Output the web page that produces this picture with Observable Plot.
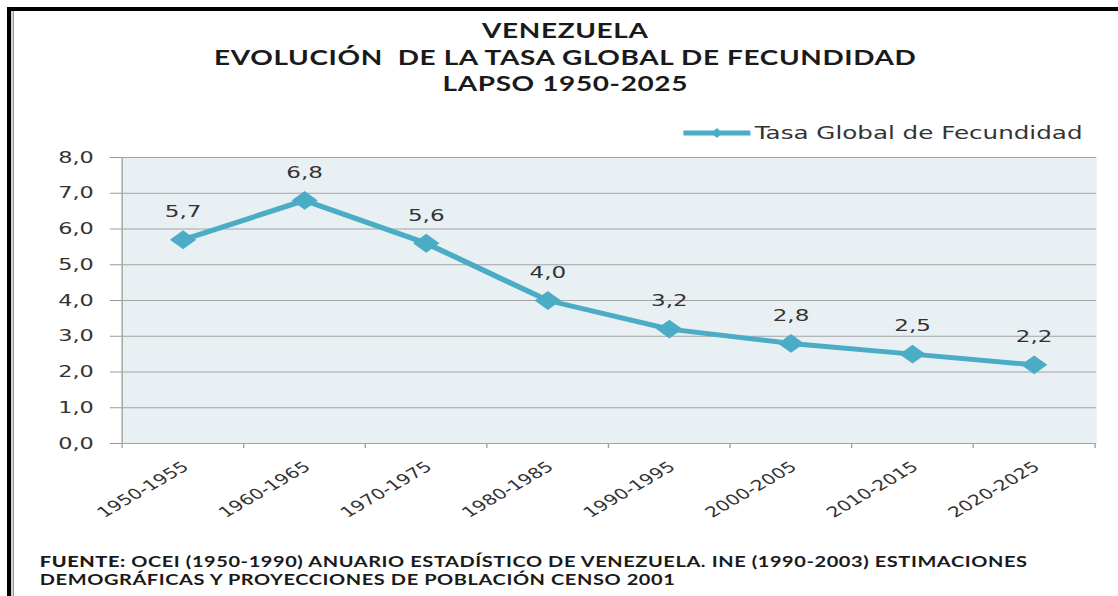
<!DOCTYPE html>
<html>
<head>
<meta charset="utf-8">
<script src="https://cdn.jsdelivr.net/npm/d3@7"></script>
<script src="https://cdn.jsdelivr.net/npm/@observablehq/plot@0.6"></script>
<style>
  html, body { margin:0; padding:0; background:#fff; width:1118px; height:596px; overflow:hidden; }
  #root { position:absolute; left:0; top:0; width:800px; height:596px; transform:scaleX(1.3975); transform-origin:0 0; }
  #frame { position:absolute; left:5px; top:7px; width:800px; height:600px; border-top:4px solid #000; border-left:3px solid #000; }
  #frame2 { position:absolute; left:8.6px; top:11px; width:1px; height:600px; background:#9a9a9a; }
  #title { position:absolute; left:4.5px; top:17px; width:800px; text-align:center; font-family:Lato, "Open Sans", sans-serif; font-weight:700; font-size:20px; letter-spacing:0.45px; line-height:26.5px; color:#1a1a1a; }
  #legend { position:absolute; left:489px; top:121px; height:24px; display:flex; align-items:center; font-family:"DejaVu Sans", sans-serif; font-size:17.6px; color:#333; }
  #plot { position:absolute; left:0; top:120px; }
  #foot { position:absolute; left:28.5px; top:553px; font-family:Lato, "Open Sans", sans-serif; font-weight:700; font-size:14.3px; line-height:18px; color:#1a1a1a; letter-spacing:0.42px; }
  #foot b { font-weight:900; }
  #plot svg g[aria-label="y-axis tick"] path { stroke:#9a9a9a; }
</style>
</head>
<body>
<div id="root">
  <div id="frame"></div>
  <div id="frame2"></div>
  <div id="title">VENEZUELA<br>EVOLUCIÓN&nbsp; DE LA TASA GLOBAL DE FECUNDIDAD<br>LAPSO 1950-2025</div>
  <div id="legend"></div>
  <div id="plot"></div>
  <div id="foot"><b>FUENTE:</b> OCEI (1950-1990) ANUARIO ESTADÍSTICO DE VENEZUELA. INE (1990-2003) ESTIMACIONES<br>DEMOGRÁFICAS Y PROYECCIONES DE POBLACIÓN CENSO 2001</div>
</div>
<script>
const periods = ["1950-1955","1960-1965","1970-1975","1980-1985","1990-1995","2000-2005","2010-2015","2020-2025"];
const tgf = [5.7, 6.8, 5.6, 4.0, 3.2, 2.8, 2.5, 2.2];
const yTicks = [0,1,2,3,4,5,6,7,8];
const seriesName = "Tasa Global de Fecundidad";

const data = periods.map((p, i) => ({period: p, value: tgf[i]}));
const fmt = v => v.toFixed(1).replace(".", ",");

const W = 800, H = 420, mL = 86.6, mR = 15.7, mT = 37, mB = 97;
const bw = (W - mL - mR) / periods.length;
const pxPerUnit = (H - mT - mB) / (yTicks[yTicks.length-1] - yTicks[0]);
const tickLen = 5 / pxPerUnit;
const color = "#4bacc6";

const chart = Plot.plot({
  width: W, height: H,
  marginLeft: mL, marginRight: mR, marginTop: mT, marginBottom: mB,
  style: {fontFamily: "DejaVu Sans, sans-serif", fontSize: "16px", color: "#333", background: "transparent"},
  x: {type: "band", domain: periods, padding: 0, axis: null},
  y: {domain: [0, 8], ticks: yTicks, tickFormat: fmt, tickSize: 8, tickPadding: 12, label: null},
  marks: [
    Plot.frame({fill: "#e9f0f4", stroke: null}),
    Plot.ruleY(yTicks, {stroke: "#a3a3a3", strokeWidth: 1}),
    Plot.ruleX([periods[0]], {dx: -bw/2, stroke: "#a3a3a3"}),
    Plot.ruleX(periods, {x: d => d, dx: -bw/2, y1: 0, y2: -tickLen, stroke: "#a3a3a3"}),
    Plot.ruleX([periods[periods.length-1]], {x: d => d, dx: bw/2, y1: 0, y2: -tickLen, stroke: "#a3a3a3"}),
    Plot.text(periods, {x: d => d, frameAnchor: "bottom", rotate: -39, textAnchor: "end", dx: 5, dy: 25, fontSize: 14.5, fill: "#333"}),
    Plot.line(data, {x: "period", y: "value", stroke: color, strokeWidth: 5, strokeLinejoin: "round"}),
    Plot.dot(data, {x: "period", y: "value", symbol: "diamond2", r: 8.5, fill: color, stroke: null}),
    Plot.text(data, {x: "period", y: "value", text: d => fmt(d.value), dy: -28, fontSize: 16.5, fill: "#333"})
  ]
});
document.getElementById("plot").appendChild(chart);

// legend
const leg = document.getElementById("legend");
leg.innerHTML = `<svg width="48" height="14" style="margin-right:3px"><line x1="1" y1="7" x2="47" y2="7" stroke="${color}" stroke-width="5" stroke-linecap="round"/><path d="M24,2 L28,7 L24,12 L20,7 Z" fill="${color}"/></svg><span>${seriesName}</span>`;
</script>
</body>
</html>
